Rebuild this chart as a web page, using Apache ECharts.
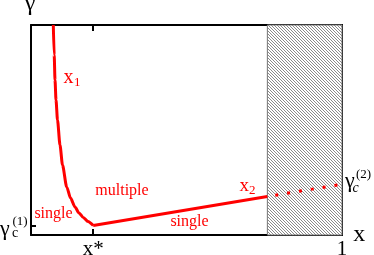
<!DOCTYPE html>
<html>
<head>
<meta charset="utf-8">
<script src="https://cdn.jsdelivr.net/npm/echarts@6/dist/echarts.min.js"></script>
<style>html,body{margin:0;padding:0;background:#fff}#c{width:374px;height:255px}</style>
</head>
<body>
<div id="c"></div>
<script>
// ---- data ----
const xStar = 0.2;          // x* tick
const xMax = 1;             // "1" tick
const hatchStart = 0.76;    // start of hatched region
const gammaC1 = 0.045;      // gamma_c^(1) level
const xTickLabels = ['x*', '1'];
const x1CurveX = [0.0717, 0.0746, 0.0772, 0.0804, 0.0852, 0.0932, 0.1013, 0.1148, 0.1270, 0.1415, 0.1543, 0.1681, 0.1833, 0.2];
const x1CurveY = [1.0, 0.857, 0.738, 0.643, 0.548, 0.429, 0.333, 0.229, 0.176, 0.133, 0.105, 0.0833, 0.0643, 0.045];
const x2LineX = [0.2, 0.76];
const x2LineY = [0.045, 0.183];
const x2DottedX = [0.76, 1.0];
const x2DottedY = [0.183, 0.242];

const zip = (a, b) => a.map((v, i) => [v, b[i]]);
const SERIF = '"Liberation Serif", "Times New Roman", serif';
const RED = '#ff0000';

// hatch pattern
const pc = document.createElement('canvas');
pc.width = 3; pc.height = 3;
const pctx = pc.getContext('2d');
pctx.fillStyle = '#ffffff'; pctx.fillRect(0, 0, 3, 3);
pctx.fillStyle = '#8a8a8a';
for (let i = 0; i < 3; i++) pctx.fillRect(i, i, 1, 1);

function txt(x, y, text, size, color, align, italic) {
  return {type: 'text', x: x, y: y, silent: true, z: 100,
    style: {text: text, font: (italic ? 'italic ' : '') + size + 'px ' + SERIF,
      fill: color || '#000', align: align || 'left', verticalAlign: 'middle'}};
}

const chart = echarts.init(document.getElementById('c'), null, {renderer: 'canvas'});
const axisCommon = {
  type: 'value', min: 0, max: 1,
  splitLine: {show: false},
  axisLine: {show: true, onZero: false, lineStyle: {color: '#000', width: 2}}
};
chart.setOption({
  animation: false,
  backgroundColor: '#fff',
  grid: {left: 31, right: 32, top: 25, bottom: 20, containLabel: false, outerBoundsMode: 'none'},
  xAxis: [
    Object.assign({}, axisCommon, {
      position: 'bottom',
      axisTick: {show: true, inside: true, length: 6, customValues: [xStar], lineStyle: {color: '#000', width: 2}},
      axisLabel: {show: true, customValues: [xStar, xMax], margin: 4,
        formatter: v => (v === xStar ? xTickLabels[0] : xTickLabels[1]),
        color: '#000', fontSize: 21, fontFamily: SERIF},
      name: 'x', nameLocation: 'end', nameGap: 5,
      nameTextStyle: {color: '#000', fontSize: 24, fontFamily: SERIF, verticalAlign: 'middle', padding: [0, 0, 4, 0]}
    }),
    Object.assign({}, axisCommon, {
      position: 'top',
      axisTick: {show: true, inside: true, length: 6, customValues: [xStar], lineStyle: {color: '#000', width: 2}},
      axisLabel: {show: false}
    })
  ],
  yAxis: [
    Object.assign({}, axisCommon, {
      position: 'left',
      axisTick: {show: true, inside: true, length: 5, customValues: [gammaC1], lineStyle: {color: '#000', width: 2}},
      axisLabel: {show: false}
    }),
    Object.assign({}, axisCommon, {
      position: 'right',
      axisTick: {show: false},
      axisLabel: {show: false}
    })
  ],
  series: [
    {
      type: 'line', data: zip(x2DottedX, x2DottedY), showSymbol: false, z: 3,
      lineStyle: {color: RED, width: 3, type: [3, 9], dashOffset: 4, cap: 'butt'},
      markArea: {
        silent: true,
        itemStyle: {color: {image: pc, repeat: 'repeat'}, borderColor: '#777', borderWidth: 1},
        data: [[{xAxis: hatchStart, yAxis: 0}, {xAxis: xMax, yAxis: 1}]]
      }
    },
    {type: 'line', data: zip(x1CurveX, x1CurveY), showSymbol: false, smooth: 0.25, smoothMonotone: 'x', z: 4,
      lineStyle: {color: RED, width: 3}},
    {type: 'line', data: zip(x2LineX, x2LineY), showSymbol: false, z: 4,
      lineStyle: {color: RED, width: 3}}
  ],
  graphic: [
    txt(30, 4, 'γ', 24, '#000', 'center'),
    txt(63.5, 78, 'x', 20, RED),
    txt(74, 83, '1', 13, RED),
    txt(239.5, 186, 'x', 19, RED),
    txt(249, 191, '2', 13, RED),
    txt(122, 191, 'multiple', 16, RED, 'center'),
    txt(53.5, 214, 'single', 16, RED, 'center'),
    txt(189.5, 222, 'single', 16, RED, 'center'),
    // gamma_c^(1)
    txt(0, 229, 'γ', 22),
    txt(12, 233.5, 'c', 14),
    txt(12.5, 222, '(1)', 13),
    // gamma_c^(2)
    txt(345, 181, 'γ', 22),
    txt(352.5, 188, 'c', 14, '#000', 'left', true),
    txt(356, 175, '(2)', 13)
  ]
});
</script>
</body>
</html>
